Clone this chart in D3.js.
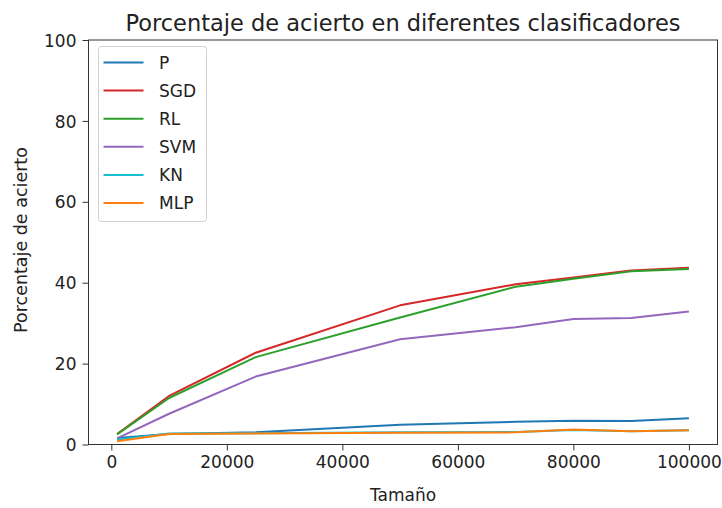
<!DOCTYPE html>
<html><head><meta charset="utf-8">
<script src="https://cdn.jsdelivr.net/npm/d3@7"></script>
<style>body{margin:0;background:#fff}svg{font-family:"DejaVu Sans",sans-serif}</style>
</head><body>
<svg id="c" width="722" height="508"></svg>
<script>
const sizes = [1000, 10000, 25000, 50000, 70000, 80000, 90000, 100000];
const P   = [1.6, 2.6, 3.0, 4.9, 5.6, 5.9, 5.8, 6.5];
const SGD = [2.6, 12.0, 22.7, 34.4, 39.6, 41.3, 43.0, 43.7];
const RL  = [2.5, 11.5, 21.6, 31.4, 39.0, 41.0, 42.8, 43.4];
const SVM = [1.5, 7.6, 16.8, 26.0, 29.0, 31.0, 31.3, 32.9];
const KN  = [1.2, 2.7, 2.8, 3.0, 3.1, 3.6, 3.3, 3.5];
const MLP = [0.8, 2.6, 2.7, 2.9, 3.0, 3.7, 3.3, 3.5];
const names = ["P", "SGD", "RL", "SVM", "KN", "MLP"];
const colors = ["#1f77b4", "#d62728", "#2ca02c", "#9467bd", "#17becf", "#ff7f0e"];
const seriesVals = [P, SGD, RL, SVM, KN, MLP];
const xTicks = [0, 20000, 40000, 60000, 80000, 100000];
const yTicks = [0, 20, 40, 60, 80, 100];

const svg = d3.select("#c");
const L = 88.5, R = 717.5, T = 40, B = 444.5;
const pad = (100000 - 1000) * 0.05;
const x = d3.scaleLinear().domain([1000 - pad, 100000 + pad]).range([L, R]);
const y = d3.scaleLinear().domain([0, 100]).range([B, T]);

const line = d3.line().x((d, i) => x(sizes[i])).y(d => y(d));
const g = svg.append("g");
seriesVals.forEach((vals, k) => {
  g.append("path").attr("d", line(vals)).attr("fill", "none")
    .attr("stroke", colors[k]).attr("stroke-width", 2).attr("stroke-linejoin", "round");
});

const FS = 17;
const xa = svg.append("g").attr("transform", `translate(0,${B})`)
  .call(d3.axisBottom(x).tickValues(xTicks).tickFormat(d3.format("d")).tickSize(6).tickPadding(5));
const ya = svg.append("g").attr("transform", `translate(${L},0)`)
  .call(d3.axisLeft(y).tickValues(yTicks).tickSize(6).tickPadding(6));
[xa, ya].forEach(a => {
  a.select(".domain").remove();
  a.selectAll("text").attr("font-size", FS).attr("fill", "#222").attr("font-family", "DejaVu Sans");
  a.selectAll("line").attr("stroke", "#333").attr("stroke-width", 1);
});
ya.selectAll("text").attr("dy", "0.36em");
svg.append("rect").attr("x", L).attr("y", T).attr("width", R - L).attr("height", B - T)
  .attr("fill", "none").attr("stroke", "#333").attr("stroke-width", 1);

svg.append("text").attr("x", (L + R) / 2).attr("y", 31).attr("text-anchor", "middle")
  .attr("font-size", 22.5).attr("fill", "#222").text("Porcentaje de acierto en diferentes clasificadores");
svg.append("text").attr("x", (L + R) / 2).attr("y", 501).attr("text-anchor", "middle")
  .attr("font-size", FS).attr("fill", "#222").text("Tamaño");
svg.append("text").attr("transform", `translate(27,240) rotate(-90)`).attr("text-anchor", "middle")
  .attr("font-size", 17.5).attr("fill", "#222").text("Porcentaje de acierto");

const lg = svg.append("g");
lg.append("rect").attr("x", 98.5).attr("y", 46.5).attr("width", 108).attr("height", 175).attr("rx", 3)
  .attr("fill", "#fff").attr("fill-opacity", 0.8).attr("stroke", "#d0d0d0");
names.forEach((n, k) => {
  const yy = 62.5 + k * 28.1;
  lg.append("line").attr("x1", 103.5).attr("x2", 143.5).attr("y1", yy).attr("y2", yy)
    .attr("stroke", colors[k]).attr("stroke-width", 2);
  lg.append("text").attr("x", 159).attr("y", yy + 6).attr("font-size", FS).attr("fill", "#222").text(n);
});
</script>
</body></html>
